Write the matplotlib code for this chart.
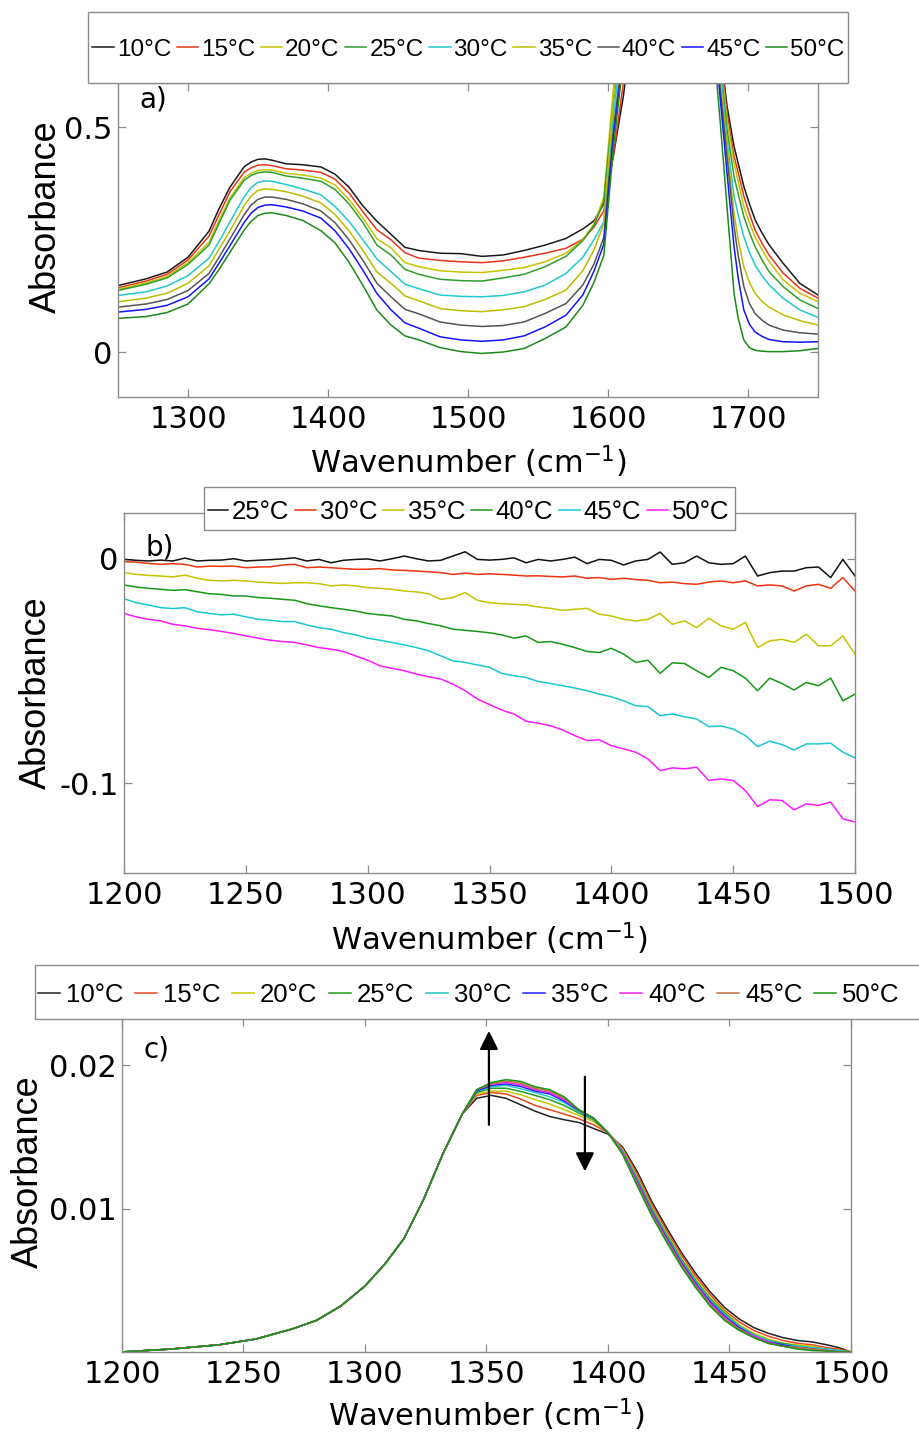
import matplotlib
matplotlib.use('Agg')
import matplotlib.pyplot as plt
from matplotlib.patches import Rectangle

plt.rcParams['font.family'] = ['DejaVu Sans']
plt.rcParams['mathtext.fontset'] = 'dejavusans'
plt.rcParams['axes.unicode_minus'] = False

# ---------------- panel a ----------------
wn_a = [1250, 1270, 1285, 1300, 1315, 1322, 1330, 1340, 1345, 1350, 1355, 1360, 1370, 1382, 1395,
        1405, 1415, 1425, 1435, 1445, 1455, 1465, 1480, 1495, 1510, 1525, 1540, 1555, 1570, 1582,
        1590, 1597, 1604, 1611, 1620, 1635, 1650, 1665, 1675, 1680, 1685, 1690, 1693, 1697, 1701,
        1705, 1710, 1715, 1725, 1737, 1750]
a10 = [.148, .163, .178, .211, .269, .318, .367, .412, .423, .429, .430, .427, .419, .417, .412,
       .396, .367, .325, .291, .262, .233, .226, .220, .219, .213, .216, .226, .238, .253, .274,
       .292, .330, .440, .570, .80, 1.05, 1.15, 1.05, .80, .68, .548, .458, .420, .369, .330,
       .295, .265, .239, .198, .153, .127]
a15 = [.143, .158, .173, .205, .258, .305, .357, .400, .410, .416, .417, .415, .408, .405, .400,
       .385, .354, .312, .272, .250, .221, .209, .204, .201, .199, .203, .211, .220, .231, .251,
       .278, .315, .440, .600, .81, 1.05, 1.15, 1.05, .80, .67, .533, .436, .400, .347, .308,
       .272, .242, .216, .176, .142, .120]
a20 = [.140, .154, .168, .199, .244, .292, .343, .388, .398, .404, .406, .405, .398, .394, .387,
       .372, .340, .298, .252, .232, .199, .190, .181, .178, .177, .182, .188, .201, .220, .250,
       .285, .345, .590, .760, .90, 1.08, 1.16, 1.04, .80, .66, .518, .421, .380, .324, .288,
       .257, .228, .202, .161, .131, .112]
a25 = [.137, .151, .165, .195, .238, .285, .338, .382, .393, .399, .401, .400, .392, .387, .380,
       .362, .330, .288, .238, .216, .184, .173, .162, .159, .158, .165, .173, .190, .213, .248,
       .282, .335, .560, .740, .88, 1.07, 1.15, 1.04, .80, .65, .496, .391, .352, .302, .266,
       .235, .205, .179, .146, .116, .097]
a30 = [.126, .134, .147, .170, .209, .245, .290, .345, .366, .378, .381, .380, .373, .363, .350,
       .324, .291, .250, .207, .179, .151, .141, .127, .124, .123, .126, .134, .149, .175, .211,
       .250, .290, .530, .720, .86, 1.06, 1.15, 1.03, .78, .64, .473, .347, .305, .257, .222,
       .194, .170, .150, .120, .094, .077]
a35 = [.112, .120, .131, .153, .192, .228, .270, .325, .347, .360, .363, .362, .357, .347, .332,
       .306, .270, .226, .178, .153, .125, .114, .097, .092, .090, .094, .101, .117, .138, .181,
       .228, .285, .570, .750, .89, 1.07, 1.15, 1.02, .78, .61, .458, .309, .250, .190, .155,
       .131, .113, .100, .083, .070, .060]
a40 = [.100, .107, .117, .137, .175, .210, .252, .305, .327, .340, .345, .345, .340, .330, .314,
       .288, .250, .204, .153, .123, .095, .085, .067, .060, .057, .059, .067, .086, .108, .149,
       .196, .255, .500, .680, .84, 1.05, 1.14, 1.01, .76, .592, .436, .280, .215, .146, .108,
       .086, .071, .060, .049, .043, .040]
a45 = [.089, .095, .104, .123, .163, .197, .237, .288, .309, .322, .327, .328, .323, .314, .298,
       .270, .230, .182, .130, .094, .065, .053, .034, .027, .024, .027, .036, .056, .082, .127,
       .180, .240, .480, .660, .84, 1.05, 1.14, 1.00, .74, .570, .399, .235, .165, .094, .062,
       .045, .035, .028, .023, .022, .023]
a50 = [.075, .079, .088, .107, .152, .183, .222, .271, .291, .304, .309, .310, .304, .293, .270,
       .243, .200, .148, .093, .060, .036, .027, .010, .001, -.003, .000, .008, .030, .056, .104,
       .155, .215, .460, .650, .82, 1.04, 1.13, .99, .70, .518, .324, .131, .075, .027, .010,
       .004, .002, .001, .001, .003, .008]
labels_a = ['10', '15', '20', '25', '30', '35', '40', '45', '50']
series_a = [a10, a15, a20, a25, a30, a35, a40, a45, a50]
colors_a = ['#1a1a1a', '#e8341c', '#c4c400', '#2e9e2e', '#22c8cc', '#bcbc00', '#555555', '#1414ff', '#1a8a1a']

# ---------------- panel b ----------------
wn_b = list(range(1200, 1501, 5))
b25 = [-.0003, -.0007, -.0010, -.0006, -.0010, .0003, -.0010, -.0007, -.0006, .0000,
       -.0010, -.0007, -.0004, -.0001, .0004, -.0010, -.0003, -.0018, -.0007, -.0003,
       -.0001, -.0010, .0000, .0012, .0000, -.0010, -.0007, .0012, .0031, -.0003,
       -.0006, -.0003, .0004, -.0018, -.0003, -.0010, -.0003, .0007, -.0022, -.0003,
       -.0007, -.0028, -.0010, -.0003, .0030, -.0025, -.0018, .0012, -.0018, -.0025,
       -.0022, .0012, -.0077, -.0062, -.0055, -.0055, -.0040, -.0037, -.0084, -.0003,
       -.0077]
b30 = [-.0013, -.0015, -.0021, -.0025, -.0022, -.0025, -.0037, -.0033, -.0034, -.0033,
       -.0040, -.0037, -.0036, -.0028, -.0025, -.0040, -.0037, -.0040, -.0044, -.0047,
       -.0047, -.0044, -.0050, -.0052, -.0055, -.0058, -.0062, -.0070, -.0064, -.0070,
       -.0067, -.0070, -.0073, -.0077, -.0076, -.0079, -.0081, -.0077, -.0087, -.0084,
       -.0092, -.0087, -.0093, -.0096, -.0107, -.0104, -.0111, -.0114, -.0104, -.0099,
       -.0107, -.0099, -.0121, -.0117, -.0121, -.0144, -.0121, -.0114, -.0132, -.0084,
       -.0144]
b35 = [-.0062, -.0070, -.0074, -.0077, -.0081, -.0073, -.0087, -.0096, -.0099, -.0096,
       -.0099, -.0104, -.0107, -.0110, -.0107, -.0107, -.0111, -.0121, -.0117, -.0121,
       -.0129, -.0132, -.0136, -.0144, -.0148, -.0156, -.0181, -.0173, -.0151, -.0185,
       -.0196, -.0200, -.0203, -.0206, -.0215, -.0221, -.0230, -.0225, -.0221, -.0247,
       -.0255, -.0270, -.0277, -.0270, -.0244, -.0292, -.0277, -.0307, -.0265, -.0299,
       -.0314, -.0284, -.0396, -.0366, -.0359, -.0373, -.0336, -.0388, -.0388, -.0344,
       -.0425]
b40 = [-.0117, -.0126, -.0132, -.0136, -.0141, -.0138, -.0147, -.0156, -.0159, -.0166,
       -.0166, -.0173, -.0176, -.0181, -.0185, -.0200, -.0210, -.0218, -.0225, -.0233,
       -.0244, -.0250, -.0255, -.0270, -.0277, -.0289, -.0299, -.0314, -.0319, -.0324,
       -.0330, -.0339, -.0354, -.0344, -.0373, -.0369, -.0381, -.0396, -.0413, -.0418,
       -.0399, -.0425, -.0462, -.0452, -.0511, -.0464, -.0467, -.0499, -.0529, -.0484,
       -.0499, -.0532, -.0588, -.0532, -.0556, -.0585, -.0551, -.0566, -.0532, -.0633,
       -.0603]
b45 = [-.0178, -.0196, -.0206, -.0218, -.0222, -.0218, -.0236, -.0244, -.0250, -.0247,
       -.0259, -.0270, -.0274, -.0280, -.0280, -.0295, -.0307, -.0314, -.0329, -.0339,
       -.0354, -.0363, -.0373, -.0384, -.0396, -.0410, -.0433, -.0455, -.0462, -.0473,
       -.0484, -.0511, -.0521, -.0529, -.0547, -.0556, -.0566, -.0576, -.0588, -.0603,
       -.0615, -.0633, -.0655, -.0659, -.0699, -.0692, -.0704, -.0714, -.0748, -.0745,
       -.0759, -.0788, -.0837, -.0813, -.0828, -.0852, -.0825, -.0825, -.0822, -.0862,
       -.0887]
b50 = [-.0244, -.0259, -.0270, -.0277, -.0292, -.0299, -.0310, -.0316, -.0324, -.0333,
       -.0344, -.0354, -.0363, -.0369, -.0373, -.0384, -.0396, -.0403, -.0413, -.0433,
       -.0452, -.0477, -.0489, -.0499, -.0514, -.0526, -.0536, -.0559, -.0588, -.0625,
       -.0650, -.0674, -.0692, -.0724, -.0733, -.0744, -.0763, -.0788, -.0810, -.0807,
       -.0833, -.0847, -.0862, -.0892, -.0944, -.0932, -.0936, -.0929, -.0988, -.0981,
       -.0988, -.1033, -.1104, -.1074, -.1077, -.1119, -.1092, -.1099, -.1084, -.1159,
       -.1173]
labels_b = ['25', '30', '35', '40', '45', '50']
series_b = [b25, b30, b35, b40, b45, b50]
colors_b = ['#111111', '#ee3311', '#c4c400', '#159915', '#18c8d0', '#ff18ff']

# ---------------- panel c ----------------
wn_c = [1200, 1220, 1240, 1255, 1270, 1280, 1290, 1300, 1308, 1316, 1324, 1332, 1340, 1346, 1352,
        1358, 1364, 1370, 1376, 1382, 1388, 1394, 1400, 1406, 1412, 1418, 1424, 1430, 1436, 1442,
        1448, 1454, 1460, 1466, 1472, 1478, 1484, 1490, 1495, 1500]
c_rise = [.0000, .0002, .0005, .0009, .0016, .0022, .0032, .0046, .0061, .0079, .0106, .0138, .0166]
c10 = c_rise + [.0177, .0179, .0177, .01725, .0168, .01643, .0162, .01601, .0156, .0152,
                .0143, .0126, .0105, .0087, .0070, .0055, .0042, .0031, .0023, .0017, .0013, .0010,
                .0008, .0007, .0005, .0003, .0000]
c15 = c_rise + [.0179, .0181, .0180, .01765, .0172, .0169, .0166, .01627, .01585, .0153,
                .0142, .0124, .0103, .0085, .0068, .0053, .0040, .0029, .0021, .0015, .0011, .0008,
                .0006, .0005, .0003, .0002, .0000]
c20 = c_rise + [.0180, .0182, .0182, .01795, .0176, .0173, .0169, .0165, .01608, .0153,
                .0141, .0122, .0101, .0083, .0066, .0051, .0038, .0028, .0019, .0013, .0009, .0006,
                .0005, .0004, .0002, .0001, .0000]
c25 = c_rise + [.0181, .0184, .0184, .01818, .0179, .0176, .0172, .01667, .0162, .0153,
                .0140, .0121, .0100, .0082, .0065, .0050, .0037, .0027, .0018, .0012, .0008, .0006,
                .0004, .0003, .0002, .0001, .0000]
c30 = c_rise + [.0182, .0185, .0186, .01837, .0181, .0178, .0174, .01678, .01627, .0153,
                .0140, .0120, .0099, .0081, .0064, .0049, .0036, .0026, .0018, .0012, .0008, .0005,
                .0004, .0003, .0002, .0001, .0000]
c35 = c_rise + [.0182, .0186, .0187, .01853, .0182, .0180, .0175, .01685, .01632, .0153,
                .0139, .0119, .0098, .0080, .0063, .0048, .0035, .0025, .0017, .0011, .0007, .0005,
                .0003, .0002, .0001, .0000, .0000]
c40 = c_rise + [.0183, .0187, .0188, .01865, .0183, .0181, .0176, .01688, .01632, .0153,
                .0139, .0118, .0097, .0079, .0062, .0047, .0034, .0024, .0016, .0011, .0007, .0004,
                .0003, .0002, .0001, .0000, .0000]
c45 = c_rise + [.0183, .0187, .0189, .01876, .0184, .0182, .0177, .0169, .01632, .0153,
                .0138, .0117, .0096, .0078, .0061, .0046, .0033, .0023, .0016, .0010, .0006, .0004,
                .0003, .0002, .0001, .0000, .0000]
c50 = c_rise + [.0183, .0188, .0190, .01888, .0185, .0183, .0178, .0169, .01632, .0153,
                .0138, .0116, .0095, .0077, .0060, .0045, .0032, .0022, .0015, .0010, .0006, .0004,
                .0002, .0001, .00005, .0000, .0000]
labels_c = ['10', '15', '20', '25', '30', '35', '40', '45', '50']
series_c = [c10, c15, c20, c25, c30, c35, c40, c45, c50]
colors_c = ['#222222', '#ee4422', '#c8c800', '#22a022', '#22c8cc', '#2222ff', '#ee22ee', '#c07040', '#129912']

# arrows in panel c (x, y_start, y_end)
arrow_up = (1351, 0.01585, 0.0224)
arrow_down = (1390.5, 0.0192, 0.0126)

# ---------------- figure ----------------
W, H = 920, 1432
fig = plt.figure(figsize=(9.2, 14.32), dpi=100)
axA = fig.add_axes([118 / W, 1 - 397 / H, 700 / W, 314.5 / H])
axB = fig.add_axes([0.1348, 0.3904, 0.7946, 0.2514])
axC = fig.add_axes([0.1326, 0.0559, 0.7924, 0.2332])

SPINE = '#8c8c8c'
YFONT = dict(family=['Liberation Sans'], size=26)
LEGFONT = 'Liberation Sans'


def style(ax):
    for s in ax.spines.values():
        s.set_color(SPINE)
        s.set_linewidth(1.0)
    ax.tick_params(direction='in', length=6, width=0.9, color=SPINE, labelcolor='black',
                   labelsize=22, top=True, right=True)
    ax.tick_params(axis='x', pad=6)
    ax.tick_params(axis='y', pad=4)


def deg(t):
    return t + '\u00b0C'


# panel a
hA = []
for s, c, l in zip(series_a, colors_a, labels_a):
    h, = axA.plot(wn_a, s, color=c, lw=1.1, label=deg(l))
    hA.append(h)
axA.set_xlim(1250, 1750)
axA.set_ylim(-0.1, 0.6)
axA.set_xticks([1300, 1400, 1500, 1600, 1700])
axA.set_yticks([0, 0.5])
axA.set_yticklabels(['0', '0.5'])
style(axA)

# panel b
hB = []
for s, c, l in zip(series_b, colors_b, labels_b):
    h, = axB.plot(wn_b, s, color=c, lw=1.1, label=deg(l))
    hB.append(h)
axB.set_xlim(1200, 1500)
axB.set_ylim(-0.14, 0.0204)
axB.set_xticks([1200, 1250, 1300, 1350, 1400, 1450, 1500])
axB.set_yticks([-0.1, 0])
axB.set_yticklabels(['-0.1', '0'])
style(axB)

# panel c
hC = []
for s, c, l in zip(series_c, colors_c, labels_c):
    h, = axC.plot(wn_c, s, color=c, lw=1.1, label=deg(l))
    hC.append(h)
axC.set_xlim(1200, 1500)
axC.set_ylim(0, 0.0233)
axC.set_xticks([1200, 1250, 1300, 1350, 1400, 1450, 1500])
axC.set_yticks([0.01, 0.02])
axC.set_yticklabels(['0.01', '0.02'])
style(axC)

ap = dict(arrowstyle='-|>,head_length=0.8,head_width=0.4', color='black', lw=1.6,
          mutation_scale=14, shrinkA=0, shrinkB=0)
for x, y0, y1 in [arrow_up, arrow_down]:
    axC.annotate('', xy=(x, y1), xytext=(x, y0), arrowprops=ap)

# labels
for ax, lab, ly, xy, yc in [(axA, 'a)', 0.945, -0.0774, 0.573),
                            (axB, 'b)', 0.905, -0.096, 0.5),
                            (axC, 'c)', 0.905, -0.104, 0.539)]:
    ax.text(0.03, ly, lab, transform=ax.transAxes, fontsize=20, va='center', ha='left')
    ax.set_ylabel('Absorbance', fontdict=YFONT)
    ax.yaxis.set_label_coords(xy, yc)

for ax, yy in [(axA, -0.147), (axB, -0.132), (axC, -0.133)]:
    ax.set_xlabel(r'Wavenumber (cm$^{-1}$)', fontsize=22)
    ax.xaxis.set_label_coords(0.5, yy)


def box(x0, y0, x1, y1):
    fig.add_artist(Rectangle((x0 / W, 1 - y1 / H), (x1 - x0) / W, (y1 - y0) / H,
                             transform=fig.transFigure, facecolor='white', edgecolor=SPINE,
                             linewidth=1.0, zorder=3))


def leg(handles, cx, cy, fs, hl, hp, cs):
    L = fig.legend(handles=handles, ncol=len(handles), loc='center',
                   bbox_to_anchor=(cx / W, 1 - cy / H), frameon=False,
                   prop=dict(family=LEGFONT, size=fs), handlelength=hl,
                   handletextpad=hp, columnspacing=cs, borderpad=0, borderaxespad=0)
    L.set_zorder(5)
    return L


box(88, 12, 848, 82.5)
leg(hA, 468.5, 50, 17.5, 0.88, 0.12, 0.23)
box(204, 487, 735, 530)
leg(hB, 468.3, 512, 18.5, 0.8, 0.14, 0.245)
box(35, 964.5, 940, 1019)
leg(hC, 468.8, 995, 18.5, 0.85, 0.23, 0.46)

fig.savefig('out.png', dpi=100)
